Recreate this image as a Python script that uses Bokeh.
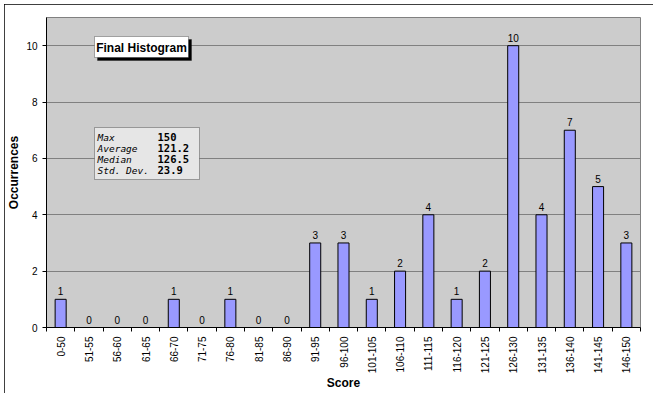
import math
from bokeh.plotting import figure
from bokeh.models import ColumnDataSource, Range1d, FixedTicker, LabelSet, Label, BoxAnnotation
from bokeh.embed import file_html
from bokeh.resources import INLINE
from bokeh.core.properties import value

# ---- data ----
categories = ["0-50", "51-55", "56-60", "61-65", "66-70", "71-75", "76-80", "81-85",
              "86-90", "91-95", "96-100", "101-105", "106-110", "111-115", "116-120",
              "121-125", "126-130", "131-135", "136-140", "141-145", "146-150"]
counts = [1, 0, 0, 0, 1, 0, 1, 0, 0, 3, 3, 1, 2, 4, 1, 2, 10, 4, 7, 5, 3]
y_ticks = [0, 2, 4, 6, 8, 10]
chart_title = "Final Histogram"
stat_names = ["Max", "Average", "Median", "Std. Dev."]
stat_values = ["150", "121.2", "126.5", " 23.9"]
x_title = "Score"
y_title = "Occurrences"

FONT = "Liberation Sans"
n = len(categories)
y_max = 11
centers = [i + 0.5 for i in range(n)]
source = ColumnDataSource(dict(x=centers, top=counts, label=[str(c) for c in counts]))

p = figure(width=649, height=389, output_backend="svg", toolbar_location=None,
           x_range=Range1d(0, n), y_range=Range1d(0, y_max),
           min_border_left=42, min_border_right=13, min_border_top=13, min_border_bottom=62)

p.background_fill_color = "#cccccc"
p.border_fill_color = "white"
p.outline_line_color = "#808080"
p.styles = {"margin-left": "4px", "margin-top": "4px",
            "outline": "1px solid black", "outline-offset": "-1px"}

p.vbar(x="x", top="top", width=0.39, source=source,
       fill_color="#9999ff", line_color="black", line_width=1)

p.add_layout(LabelSet(x="x", y="top", text="label", source=source,
                      text_align="center", text_baseline="bottom", y_offset=4,
                      text_font=value(FONT), text_font_size="10px", text_color="black"))

# x axis
xa = p.xaxis[0]
xa.ticker = FixedTicker(ticks=centers, minor_ticks=list(range(n + 1)))
xa.major_label_overrides = {c: cat for c, cat in zip(centers, categories)}
xa.major_tick_out = 0
xa.major_tick_in = 0
xa.minor_tick_out = 4
xa.minor_tick_in = 0
xa.minor_tick_line_color = "black"
xa.major_label_orientation = math.pi / 2
xa.major_label_standoff = 5
xa.major_label_text_font = FONT
xa.major_label_text_font_size = "10px"
xa.major_label_text_color = "black"
xa.axis_line_color = "black"
xa.axis_label = x_title
xa.axis_label_text_font = FONT
xa.axis_label_text_font_size = "12px"
xa.axis_label_text_font_style = "bold"
xa.axis_label_text_color = "black"
xa.axis_label_standoff = 0

# y axis
ya = p.yaxis[0]
ya.ticker = FixedTicker(ticks=y_ticks)
ya.major_tick_out = 4
ya.major_tick_in = 0
ya.minor_tick_line_color = None
ya.major_label_standoff = 5
ya.major_label_text_font = FONT
ya.major_label_text_font_size = "10px"
ya.major_label_text_color = "black"
ya.axis_line_color = "black"
ya.axis_label = y_title
ya.axis_label_text_font = FONT
ya.axis_label_text_font_size = "12px"
ya.axis_label_text_font_style = "bold"
ya.axis_label_text_color = "black"
ya.axis_label_standoff = 2

p.xgrid.visible = False
p.ygrid.ticker = FixedTicker(ticks=y_ticks)
p.ygrid.grid_line_color = "#808080"

# helpers: convert reference-pixel positions into data coordinates
def dx(px):
    return (px - 46) * n / 594.0

def dy(py):
    return (327 - py) * y_max / 310.0

# title box with shadow
p.add_layout(BoxAnnotation(left=dx(97), right=dx(191), top=dy(39), bottom=dy(60),
                           fill_color="black", fill_alpha=1, line_color="black"))
p.add_layout(BoxAnnotation(left=dx(94), right=dx(188), top=dy(36), bottom=dy(57),
                           fill_color="white", fill_alpha=1, line_color="black", line_width=1))
p.add_layout(Label(x=dx(141), y=dy(47), text=chart_title, text_align="center",
                   text_baseline="middle", text_font=FONT, text_font_size="12px",
                   text_font_style="bold", text_color="black"))

# stats box
p.add_layout(BoxAnnotation(left=dx(94), right=dx(199), top=dy(127), bottom=dy(179),
                           fill_color="#e6e6e6", fill_alpha=1, line_color="black", line_width=1))
for i, (name, val) in enumerate(zip(stat_names, stat_values)):
    yy = dy(136.5 + i * 11)
    p.add_layout(Label(x=dx(97), y=yy, text=name, text_align="left", text_baseline="middle",
                       text_font="DejaVu Sans Mono", text_font_size="9.5px",
                       text_font_style="italic", text_color="black"))
    p.add_layout(Label(x=dx(157), y=yy, text=val, text_align="left", text_baseline="middle",
                       text_font="DejaVu Sans Mono", text_font_size="10.5px",
                       text_font_style="bold", text_color="black"))

open("out.html", "w").write(file_html(p, INLINE))
